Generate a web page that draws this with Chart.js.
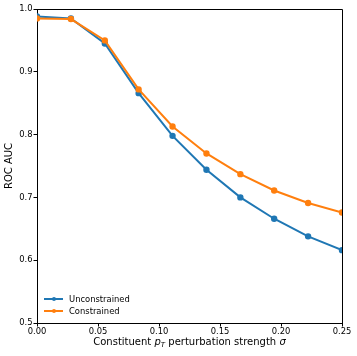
<!DOCTYPE html>
<html>
<head>
<meta charset="utf-8">
<script src="https://cdn.jsdelivr.net/npm/chart.js@4"></script>
<style>
  body { margin: 0; background: #fff; }
  #wrap { position: relative; width: 357px; height: 356px; font-family: "DejaVu Sans", sans-serif; }
  #xlabel { position: absolute; left: 37px; width: 305px; top: 336px; line-height: 12px; text-align: center; font-size: 10px; color: #000; white-space: nowrap; }
  #xlabel sub { font-size: 7px; vertical-align: -2px; line-height: 0; }
  .leg { position: absolute; left: 44px; font-size: 8.4px; color: #000; white-space: nowrap; }
  .leg .ln { position: absolute; left: 0; top: 5px; width: 19px; height: 2px; }
  .leg .dot { position: absolute; left: 7.5px; top: 4px; width: 4px; height: 4px; border-radius: 50%; }
  .leg span.t { position: absolute; left: 25px; top: 0; line-height: 12px; }
</style>
</head>
<body>
<div id="wrap">
  <canvas id="rocChart" width="357" height="356"></canvas>
  <div id="xlabel">Constituent <i>p</i><sub><i>T</i></sub> perturbation strength <i>σ</i></div>
  <div class="leg" style="top:293px"><div class="ln" style="background:#1f77b4"></div><div class="dot" style="background:#1f77b4"></div><span class="t">Unconstrained</span></div>
  <div class="leg" style="top:305px"><div class="ln" style="background:#ff7f0e"></div><div class="dot" style="background:#ff7f0e"></div><span class="t">Constrained</span></div>
</div>
<script>
// perturbation strengths and AUC values
const sigma = [0, 0.0278, 0.0556, 0.0833, 0.1111, 0.1389, 0.1667, 0.1944, 0.2222, 0.25];
const unconstrained = [0.988, 0.985, 0.945, 0.866, 0.798, 0.744, 0.700, 0.666, 0.638, 0.616];
const constrained = [0.985, 0.984, 0.950, 0.872, 0.813, 0.770, 0.737, 0.711, 0.691, 0.676];
const xTicks = [0, 0.05, 0.10, 0.15, 0.20, 0.25];
const yTicks = [0.5, 0.6, 0.7, 0.8, 0.9, 1.0];

const toPoints = (ys) => sigma.map((x, i) => ({ x: x, y: ys[i] }));

// top and right spines
const frame = {
    id: 'frame',
    afterDatasetsDraw(chart) {
        const a = chart.chartArea, c = chart.ctx;
        c.save();
        c.strokeStyle = '#000';
        c.lineWidth = 1;
        c.beginPath();
        c.moveTo(a.left, a.top + 0.5);
        c.lineTo(a.right + 0.5, a.top + 0.5);
        c.lineTo(a.right + 0.5, a.bottom);
        c.stroke();
        c.restore();
    }
};

const ctx = document.getElementById('rocChart').getContext('2d');
new Chart(ctx, {
    type: 'line',
    data: {
        datasets: [{
            label: 'Unconstrained',
            data: toPoints(unconstrained),
            borderColor: '#1f77b4',
            backgroundColor: '#1f77b4',
            borderWidth: 2,
            pointRadius: 2.2,
            pointHoverRadius: 2.2,
            clip: 0,
            order: 1
        }, {
            label: 'Constrained',
            data: toPoints(constrained),
            borderColor: '#ff7f0e',
            backgroundColor: '#ff7f0e',
            borderWidth: 2,
            pointRadius: 2.2,
            pointHoverRadius: 2.2,
            clip: 0,
            order: 0
        }]
    },
    options: {
        responsive: false,
        animation: false,
        events: [],
        layout: { padding: { left: 0, right: 15, top: 9, bottom: 0 } },
        plugins: { legend: { display: false }, tooltip: { enabled: false } },
        scales: {
            x: {
                type: 'linear',
                min: 0,
                max: 0.25,
                afterFit: (s) => { s.height = 33; },
                afterBuildTicks: (s) => { s.ticks = xTicks.map(v => ({ value: v })); },
                grid: { drawOnChartArea: false, color: '#000', tickLength: 3.5, tickWidth: 1 },
                border: { color: '#000', width: 1 },
                ticks: {
                    color: '#000',
                    font: { family: 'DejaVu Sans', size: 8.4 },
                    padding: 0,
                    maxRotation: 0,
                    callback: (v) => v.toFixed(2)
                }
            },
            y: {
                min: 0.5,
                max: 1.0,
                afterFit: (s) => { s.width = 37; },
                afterBuildTicks: (s) => { s.ticks = yTicks.map(v => ({ value: v })); },
                grid: { drawOnChartArea: false, color: '#000', tickLength: 3.5, tickWidth: 1 },
                border: { color: '#000', width: 1 },
                title: {
                    display: true,
                    text: 'ROC AUC',
                    color: '#000',
                    font: { family: 'DejaVu Sans', size: 10 },
                    padding: { top: 3, bottom: 0 }
                },
                ticks: {
                    color: '#000',
                    font: { family: 'DejaVu Sans', size: 8.4 },
                    padding: 1,
                    callback: (v) => v.toFixed(1)
                }
            }
        }
    },
    plugins: [frame]
});
</script>
</body>
</html>
